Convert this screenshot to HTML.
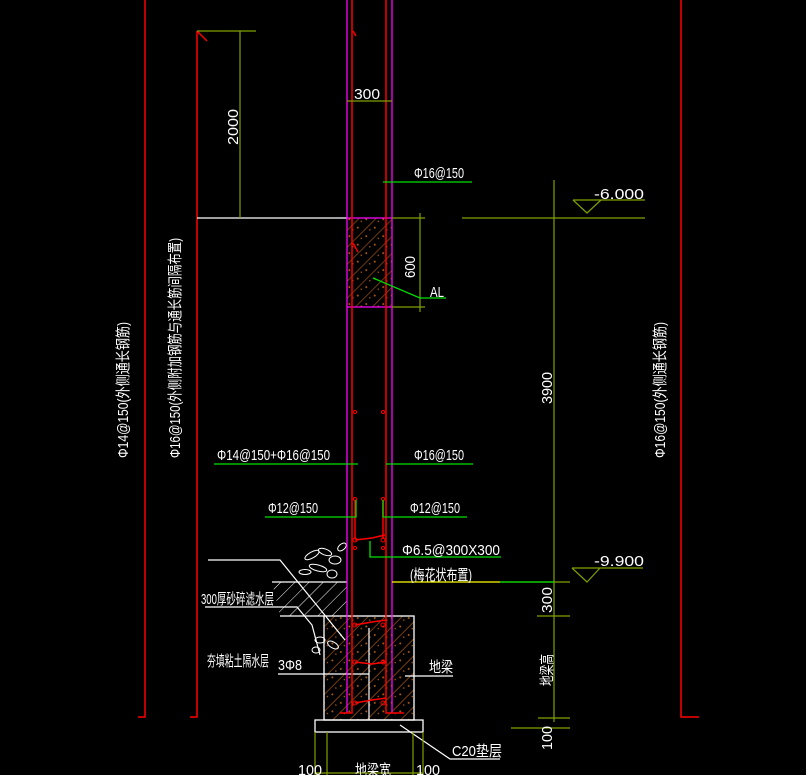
<!DOCTYPE html>
<html><head><meta charset="utf-8"><style>
html,body{margin:0;padding:0;background:#000;width:806px;height:775px;overflow:hidden}
svg{display:block}
text{font-family:"Liberation Sans Narrow","Liberation Sans","Noto Sans CJK SC",sans-serif;fill:#fff;font-size:15px}
</style></head><body>
<svg width="806" height="775" viewBox="0 0 806 775" xmlns="http://www.w3.org/2000/svg">
<defs>
<pattern id="h" patternUnits="userSpaceOnUse" width="12" height="12" patternTransform="rotate(45)">
<line x1="0" y1="0" x2="0" y2="12" stroke="#b05a10" stroke-width="1.3"/>
<circle cx="6" cy="4" r="1" fill="#b05a10"/><circle cx="4" cy="9" r="0.8" fill="#b05a10"/>
</pattern>
<pattern id="w" patternUnits="userSpaceOnUse" width="10" height="10" patternTransform="rotate(45)">
<line x1="0" y1="0" x2="0" y2="10" stroke="#fff" stroke-width="1"/>
</pattern>
</defs>
<g stroke="#ff0000" stroke-width="1.5" fill="none">
<polyline points="145,0 145,717 138,717"/>
<polyline points="197,31 197,717 190,717"/>
<line x1="197" y1="31" x2="207" y2="41"/>
<polyline points="681,0 681,717 699,717"/>
</g>
<rect x="347" y="218" width="45" height="89" fill="url(#h)"/>
<rect x="324" y="616" width="90" height="104" fill="url(#h)" stroke="#fff" stroke-width="1.3"/>
<line x1="369" y1="628" x2="369" y2="720" stroke="#fff" stroke-width="1.2"/>
<rect x="315" y="720" width="108" height="12" fill="none" stroke="#fff" stroke-width="1.3"/>
<polygon points="272,582 347,582 347,616 280,616" fill="url(#w)"/>
<g stroke="#fff" stroke-width="1.2" fill="none">
<line x1="272" y1="582" x2="347" y2="582"/>
<line x1="280" y1="616" x2="324" y2="616"/>
<polyline points="208,560 280,560 345,640"/>
<polyline points="205,607 297,607 312,625 320,655"/>
<line x1="197" y1="218" x2="347" y2="218"/>
<line x1="278" y1="674" x2="369" y2="674"/>
<line x1="405" y1="676" x2="453" y2="676"/>
<polyline points="400,725 450,759 500,759"/>
</g>
<g stroke="#fff" stroke-width="1" fill="none">
<ellipse cx="312" cy="555" rx="8" ry="3" transform="rotate(-30 312 555)"/>
<ellipse cx="325" cy="552" rx="7" ry="3" transform="rotate(20 325 552)"/>
<ellipse cx="335" cy="560" rx="6" ry="4"/>
<ellipse cx="318" cy="568" rx="9" ry="3" transform="rotate(15 318 568)"/>
<ellipse cx="332" cy="574" rx="5" ry="4"/>
<ellipse cx="342" cy="547" rx="5" ry="3" transform="rotate(-40 342 547)"/>
<ellipse cx="305" cy="572" rx="6" ry="2.5"/>
<ellipse cx="320" cy="640" rx="5" ry="3"/><ellipse cx="333" cy="645" rx="6" ry="3" transform="rotate(30 333 645)"/>
<ellipse cx="316" cy="650" rx="4" ry="3"/>
</g>
<g stroke="#ff00ff" stroke-width="1.3">
<line x1="347" y1="0" x2="347" y2="713"/>
<line x1="392" y1="0" x2="392" y2="713"/>
<line x1="347" y1="218" x2="392" y2="218"/>
<line x1="347" y1="307" x2="392" y2="307"/>
</g>
<g stroke="#ff0000" stroke-width="1.5" fill="none">
<polyline points="352,0 352,713 340,713"/>
<polyline points="386,0 386,713 404,713"/>
<line x1="353" y1="31" x2="356" y2="36"/>
<line x1="353" y1="243" x2="358" y2="252"/>
<polyline points="355,539 355,500"/><polyline points="383,539 383,500"/>
<polyline points="355,540 372,538 385,535"/>
<polyline points="355,625 372,622 386,620"/>
<polyline points="355,662 372,664 386,662"/>
<polyline points="355,703 372,700 386,698"/>
</g>
<g fill="none" stroke="#ff0000" stroke-width="1">
<circle cx="355" cy="499" r="1.5"/><circle cx="383" cy="499" r="1.5"/>
<circle cx="355" cy="540" r="2"/><circle cx="383" cy="540" r="2"/>
<circle cx="355" cy="548" r="1.5"/><circle cx="383" cy="548" r="1.5"/>
<circle cx="355" cy="625" r="2"/><circle cx="383" cy="625" r="2"/>
<circle cx="355" cy="662" r="2"/><circle cx="383" cy="662" r="2"/>
<circle cx="355" cy="703" r="2"/><circle cx="383" cy="703" r="2"/>
<circle cx="355" cy="412" r="1.5"/><circle cx="383" cy="412" r="1.5"/>
</g>
<g stroke="#7f9f00" stroke-width="1.2" fill="none">
<line x1="197" y1="31" x2="256" y2="31"/>
<line x1="240" y1="31" x2="240" y2="218"/>
<line x1="347" y1="101" x2="392" y2="101"/>
<line x1="392" y1="218" x2="425" y2="218"/><line x1="392" y1="307" x2="425" y2="307"/>
<line x1="420" y1="213" x2="420" y2="312"/>
<line x1="462" y1="218" x2="645" y2="218"/>
<line x1="554" y1="180" x2="554" y2="722"/>
<polyline points="573,200 645,200"/><polyline points="573,200 587,213 601,200"/>
<line x1="500" y1="582" x2="570" y2="582"/>
<polyline points="572,568 643,568"/><polyline points="572,568 587,582 600,568"/>
<line x1="537" y1="616" x2="570" y2="616"/>
<line x1="538" y1="718" x2="570" y2="718"/>
<line x1="511" y1="728" x2="570" y2="728"/>
<line x1="315" y1="732" x2="315" y2="775"/><line x1="327" y1="732" x2="327" y2="775"/>
<line x1="413" y1="732" x2="413" y2="775"/><line x1="423" y1="732" x2="423" y2="775"/>
<line x1="315" y1="773" x2="423" y2="773"/>
</g>
<g stroke="#00e000" stroke-width="1.3" fill="none">
<line x1="383" y1="182" x2="472" y2="182"/>
<polyline points="373,278 420,298 446,298"/>
<line x1="214" y1="464" x2="358" y2="464"/>
<line x1="386" y1="464" x2="473" y2="464"/>
<polyline points="265,517 356,517 356,500"/>
<polyline points="467,517 383,517 383,500"/>
<polyline points="370,541 370,557 501,557"/>
<line x1="500" y1="582" x2="554" y2="582"/>
</g>
<line x1="392" y1="582" x2="500" y2="582" stroke="#ffff00" stroke-width="1.3"/>
<g>
<text x="354" y="99" font-size="17" textLength="26" lengthAdjust="spacingAndGlyphs">300</text>
<text x="414" y="178" font-size="19" textLength="50" lengthAdjust="spacingAndGlyphs">Φ16@150</text>
<text x="430" y="297" font-size="18" textLength="14" lengthAdjust="spacingAndGlyphs">AL</text>
<text x="594" y="199" font-size="16" textLength="50" lengthAdjust="spacingAndGlyphs">-6.000</text>
<text x="594" y="566" font-size="16" textLength="50" lengthAdjust="spacingAndGlyphs">-9.900</text>
<text x="217" y="460" font-size="19" textLength="113" lengthAdjust="spacingAndGlyphs">Φ14@150+Φ16@150</text>
<text x="414" y="460" font-size="19" textLength="50" lengthAdjust="spacingAndGlyphs">Φ16@150</text>
<text x="268" y="513" font-size="19" textLength="50" lengthAdjust="spacingAndGlyphs">Φ12@150</text>
<text x="410" y="513" font-size="19" textLength="50" lengthAdjust="spacingAndGlyphs">Φ12@150</text>
<text x="402" y="555" font-size="19" textLength="98" lengthAdjust="spacingAndGlyphs">Φ6.5@300X300</text>
<text x="410" y="580" font-size="16" textLength="62" lengthAdjust="spacingAndGlyphs">(梅花状布置)</text>
<text x="201" y="604" font-size="18" textLength="73" lengthAdjust="spacingAndGlyphs">300厚砂碎滤水层</text>
<text x="207" y="666" font-size="18" textLength="62" lengthAdjust="spacingAndGlyphs">夯填粘土隔水层</text>
<text x="278" y="670" font-size="18" textLength="24" lengthAdjust="spacingAndGlyphs">3Φ8</text>
<text x="429" y="672" font-size="18" textLength="24" lengthAdjust="spacingAndGlyphs">地梁</text>
<text x="452" y="756" font-size="18" textLength="50" lengthAdjust="spacingAndGlyphs">C20垫层</text>
<text x="298" y="775" font-size="17" textLength="24" lengthAdjust="spacingAndGlyphs">100</text>
<text x="355" y="775" font-size="17" textLength="36" lengthAdjust="spacingAndGlyphs">地梁宽</text>
<text x="416" y="775" font-size="17" textLength="24" lengthAdjust="spacingAndGlyphs">100</text>
<text transform="translate(238,145) rotate(-90)" font-size="17" textLength="36" lengthAdjust="spacingAndGlyphs">2000</text>
<text transform="translate(415,278) rotate(-90)" font-size="16" textLength="22" lengthAdjust="spacingAndGlyphs">600</text>
<text transform="translate(552,404) rotate(-90)" font-size="17" textLength="32" lengthAdjust="spacingAndGlyphs">3900</text>
<text transform="translate(552,613) rotate(-90)" font-size="17" textLength="26" lengthAdjust="spacingAndGlyphs">300</text>
<text transform="translate(552,686) rotate(-90)" font-size="18" textLength="32" lengthAdjust="spacingAndGlyphs">地梁高</text>
<text transform="translate(552,750) rotate(-90)" font-size="17" textLength="24" lengthAdjust="spacingAndGlyphs">100</text>
<text transform="translate(128,458) rotate(-90)" font-size="19" textLength="136" lengthAdjust="spacingAndGlyphs">Φ14@150(外侧通长钢筋)</text>
<text transform="translate(180,458) rotate(-90)" font-size="19" textLength="220" lengthAdjust="spacingAndGlyphs">Φ16@150(外侧附加钢筋与通长筋间隔布置)</text>
<text transform="translate(665,458) rotate(-90)" font-size="19" textLength="136" lengthAdjust="spacingAndGlyphs">Φ16@150(外侧通长钢筋)</text>
</g>
</svg>
</body></html>
